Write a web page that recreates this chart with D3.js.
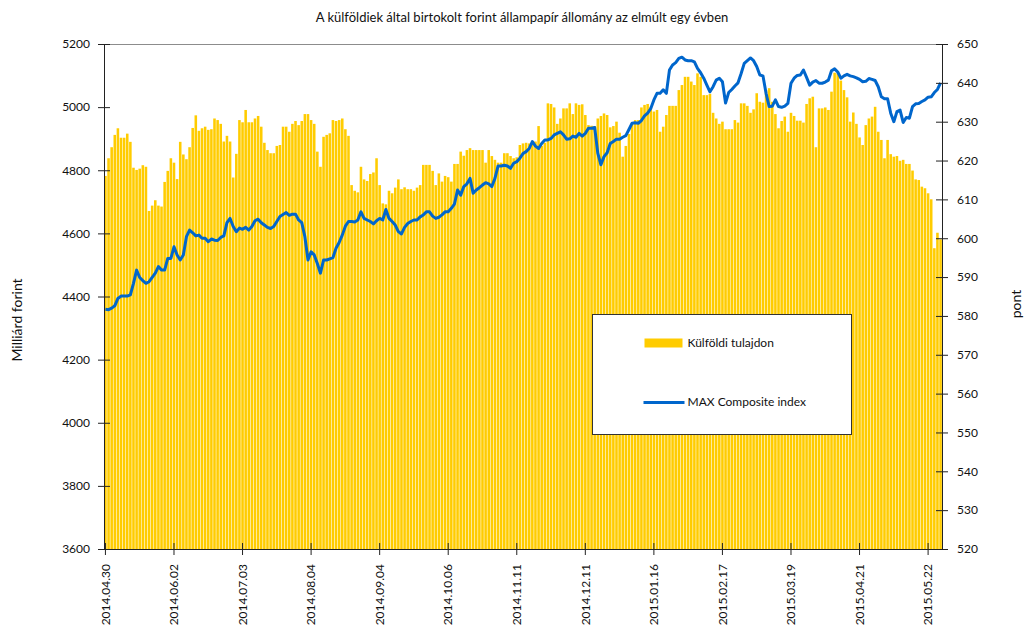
<!DOCTYPE html>
<html>
<head>
<meta charset="utf-8">
<script src="https://cdn.jsdelivr.net/npm/d3@7"></script>
<style>
    body { margin: 0; background: #fff; }
    text { font-family: Lato, "Open Sans", sans-serif; fill: #111; }
</style>
</head>
<body>
<svg id="svg" width="1027" height="625"></svg>
<script>
// tick labels, one every 22 trading days
const tickLabels = ['2014.04.30', '2014.06.02', '2014.07.03', '2014.08.04', '2014.09.04', '2014.10.06',
    '2014.11.11', '2014.12.11', '2015.01.16', '2015.02.17', '2015.03.19', '2015.04.21', '2015.05.22'];
const tickStep = 22;

// Külföldi tulajdon, milliárd forint (daily)
const holdings = [
    4782, 4838, 4873, 4912, 4933, 4903, 4903, 4916, 4890, 4808, 4801, 4805, 4816, 4811, 4671, 4688, 4705, 4688, 4685, 4763,
    4798, 4838, 4824, 4772, 4890, 4850, 4835, 4873, 4934, 4974, 4925, 4933, 4938, 4928, 4930, 4964, 4959, 4947, 4891, 4909,
    4891, 4777, 4852, 4959, 4952, 4991, 4952, 4952, 4964, 4972, 4938, 4887, 4864, 4854, 4854, 4877, 4880, 4938, 4938, 4922,
    4947, 4956, 4943, 4956, 4978, 4978, 4959, 4947, 4859, 4811, 4906, 4912, 4917, 4959, 4956, 4959, 4964, 4930, 4909, 4753,
    4735, 4730, 4811, 4771, 4766, 4788, 4793, 4838, 4753, 4695, 4692, 4735, 4727, 4745, 4771, 4740, 4746, 4740, 4740, 4735,
    4745, 4753, 4817, 4817, 4817, 4798, 4753, 4790, 4764, 4782, 4778, 4764, 4820, 4820, 4859, 4846, 4864, 4870, 4864, 4864,
    4864, 4864, 4824, 4864, 4845, 4833, 4824, 4824, 4854, 4854, 4845, 4838, 4841, 4880, 4885, 4887, 4885, 4883, 4891, 4940,
    4877, 4887, 5012, 5010, 4999, 4947, 4964, 4996, 4996, 5012, 4978, 5012, 5007, 5009, 4975, 4943, 4941, 4940, 4964, 4972,
    4980, 4975, 4936, 4940, 4954, 4919, 4843, 4877, 4915, 4949, 4959, 4959, 4999, 5007, 5010, 5001, 4986, 4991, 4922, 4938,
    4975, 5004, 5004, 5004, 5054, 5070, 5096, 5096, 5081, 5070, 5107, 5096, 5038, 5038, 5042, 4982, 4964, 4947, 4954, 4930,
    4930, 4930, 4959, 4951, 5012, 5012, 5004, 4982, 4993, 5044, 5017, 5014, 5054, 5060, 5017, 4978, 4933, 4956, 4970, 4922,
    4982, 4972, 4957, 4957, 4951, 5010, 5028, 5033, 4873, 4996, 4996, 4999, 4991, 5049, 5109, 5107, 5084, 5054, 5031, 4954,
    4983, 4947, 4904, 4880, 4943, 4964, 4970, 5001, 4922, 4896, 4838, 4896, 4851, 4843, 4845, 4830, 4833, 4820, 4820, 4799,
    4771, 4769, 4748, 4743, 4727, 4708, 4553, 4602, 4581
];

// MAX Composite index, pont
const maxIndex = [
    581.7, 581.6, 582.0, 582.6, 584.5, 585.1, 585.1, 585.1, 585.4, 588.4, 591.8, 589.9, 589.1, 588.4, 588.8, 589.9, 591.0, 592.7, 591.8, 591.8,
    594.8, 594.8, 597.8, 595.7, 594.4, 595.7, 600.4, 602.1, 601.4, 600.6, 600.8, 600.0, 600.0, 599.1, 599.8, 599.5, 599.4, 600.2, 600.6, 604.0,
    605.1, 603.0, 601.7, 602.6, 602.3, 602.8, 602.1, 603.0, 604.5, 604.9, 604.0, 603.4, 602.8, 602.5, 603.0, 604.3, 605.6, 606.1, 606.6, 605.9,
    606.2, 606.2, 604.7, 604.0, 600.4, 594.4, 596.5, 595.7, 593.5, 591.0, 594.4, 594.4, 594.7, 595.0, 597.4, 598.9, 600.8, 603.1, 604.3, 604.3,
    604.2, 604.7, 606.8, 605.1, 604.7, 604.3, 603.7, 604.5, 605.1, 604.7, 607.4, 605.1, 604.3, 603.4, 601.7, 601.1, 602.8, 603.8, 604.3, 604.7,
    604.7, 605.5, 606.0, 606.8, 606.8, 605.7, 605.1, 605.4, 606.0, 606.8, 606.8, 607.7, 608.8, 612.4, 611.1, 613.3, 614.0, 615.4, 611.6, 612.4,
    613.0, 613.7, 614.3, 614.0, 613.3, 615.4, 618.6, 618.6, 618.8, 618.6, 618.0, 619.3, 619.7, 620.6, 621.8, 622.3, 623.1, 624.9, 623.7, 623.1,
    624.4, 625.3, 625.3, 625.7, 626.6, 627.0, 627.4, 626.6, 625.5, 625.6, 626.3, 626.0, 627.0, 626.3, 627.0, 628.3, 628.3, 628.5, 621.9, 618.9,
    621.0, 622.0, 624.4, 624.9, 625.5, 625.5, 626.0, 626.4, 628.0, 629.6, 629.7, 629.6, 630.3, 631.5, 632.2, 633.4, 635.6, 637.3, 637.3, 638.2,
    637.3, 643.3, 644.6, 645.2, 646.3, 646.6, 645.9, 645.7, 645.7, 645.4, 643.7, 642.6, 641.2, 639.4, 637.7, 639.0, 640.7, 641.2, 640.3, 634.8,
    637.5, 638.3, 639.2, 640.0, 642.4, 645.0, 645.7, 646.4, 645.7, 644.2, 642.0, 641.8, 637.3, 633.9, 634.0, 635.6, 633.9, 633.7, 634.0, 634.7,
    639.9, 641.2, 641.9, 642.0, 643.3, 641.4, 639.4, 640.2, 640.6, 639.9, 639.9, 640.2, 640.7, 643.1, 643.6, 642.8, 641.2, 641.8, 642.2, 641.8,
    641.6, 641.3, 640.9, 640.3, 640.4, 641.1, 640.9, 640.6, 639.0, 636.4, 635.9, 635.9, 632.2, 630.0, 632.6, 633.0, 629.8, 631.1, 630.9, 633.9,
    634.6, 634.7, 635.2, 635.6, 636.3, 636.4, 637.5, 638.3, 640.0
];

const leftTicks = [3600, 3800, 4000, 4200, 4400, 4600, 4800, 5000, 5200];
const rightTicks = [520, 530, 540, 550, 560, 570, 580, 590, 600, 610, 620, 630, 640, 650];
const seriesNames = ['Külföldi tulajdon', 'MAX Composite index'];

const barColor = '#ffcc00';
const lineColor = '#0066cc';

const margin = { top: 44, right: 85, bottom: 76, left: 104 };
const width = 1027 - margin.left - margin.right;
const height = 625 - margin.top - margin.bottom;

const svg = d3.select('#svg');

svg.append('text')
    .attr('x', 522)
    .attr('y', 22)
    .attr('text-anchor', 'middle')
    .style('font-size', '13px')
    .text('A külföldiek által birtokolt forint állampapír állomány az elmúlt egy évben');

const g = svg.append('g')
    .attr('transform', `translate(${margin.left},${margin.top})`);

const x = d3.scaleBand()
    .domain(d3.range(holdings.length))
    .range([0, width])
    .paddingInner(0.18)
    .paddingOuter(0.05);

const yLeft = d3.scaleLinear().domain([3600, 5200]).range([height, 0]);
const yRight = d3.scaleLinear().domain([520, 650]).range([height, 0]);

// bars
g.append('g')
    .selectAll('rect')
    .data(holdings)
    .join('rect')
    .attr('x', (d, i) => x(i))
    .attr('y', d => yLeft(d))
    .attr('width', x.bandwidth())
    .attr('height', d => height - yLeft(d))
    .style('fill', barColor);

// line
const line = d3.line()
    .x((d, i) => x(i) + x.bandwidth() / 2)
    .y(d => yRight(d));

g.append('path')
    .datum(maxIndex)
    .attr('d', line)
    .style('fill', 'none')
    .style('stroke', lineColor)
    .style('stroke-width', 3)
    .style('stroke-linejoin', 'round');

// top border
g.append('line')
    .attr('x1', 0).attr('x2', width)
    .attr('y1', 0.5).attr('y2', 0.5)
    .style('stroke', '#8c8c8c');

function styleAxis(sel) {
    sel.select('.domain').style('stroke', '#222');
    sel.selectAll('.tick line').style('stroke', '#222');
    sel.selectAll('text').style('font-size', '12px').style('font-family', 'Lato, sans-serif').style('fill', '#111');
}

// left axis
const leftAxis = g.append('g')
    .call(d3.axisLeft(yLeft).tickValues(leftTicks).tickFormat(d3.format('d'))
        .tickSize(6).tickSizeOuter(0).tickPadding(8));
leftAxis.selectAll('.tick line').attr('x2', 6).attr('x1', -6);
styleAxis(leftAxis);

// right axis
const rightAxis = g.append('g')
    .attr('transform', `translate(${width},0)`)
    .call(d3.axisRight(yRight).tickValues(rightTicks).tickFormat(d3.format('d'))
        .tickSize(6).tickSizeOuter(0).tickPadding(9));
rightAxis.selectAll('.tick line').attr('x1', -6).attr('x2', 6);
styleAxis(rightAxis);

// bottom axis
const tickIdx = tickLabels.map((d, k) => k * tickStep);
const bottomAxis = g.append('g')
    .attr('transform', `translate(0,${height})`)
    .call(d3.axisBottom(x).tickValues(tickIdx).tickFormat((d, k) => tickLabels[k]).tickSize(6).tickSizeOuter(0));
bottomAxis.selectAll('.tick line').attr('y1', -6).attr('y2', 6);
bottomAxis.selectAll('.tick text')
    .attr('transform', 'rotate(-90)')
    .attr('text-anchor', 'end')
    .attr('x', -15)
    .attr('y', 0)
    .attr('dy', '0.35em');
styleAxis(bottomAxis);

// axis titles
svg.append('text')
    .attr('transform', 'translate(22,320) rotate(-90)')
    .attr('text-anchor', 'middle')
    .style('font-size', '14px')
    .text('Milliárd forint');

svg.append('text')
    .attr('transform', 'translate(1021,304) rotate(-90)')
    .attr('text-anchor', 'middle')
    .style('font-size', '14px')
    .text('pont');

// legend
const legend = svg.append('g').attr('transform', 'translate(592.5,314.5)');
legend.append('rect')
    .attr('width', 259)
    .attr('height', 120)
    .style('fill', '#fff')
    .style('stroke', '#333');

legend.append('rect')
    .attr('x', 52).attr('y', 24)
    .attr('width', 38).attr('height', 9)
    .style('fill', barColor);
legend.append('text')
    .attr('x', 95).attr('y', 32)
    .style('font-size', '12px')
    .text(seriesNames[0]);

legend.append('line')
    .attr('x1', 51).attr('x2', 92)
    .attr('y1', 88).attr('y2', 88)
    .style('stroke', lineColor)
    .style('stroke-width', 3);
legend.append('text')
    .attr('x', 95).attr('y', 91)
    .style('font-size', '12px')
    .text(seriesNames[1]);
</script>
</body>
</html>
